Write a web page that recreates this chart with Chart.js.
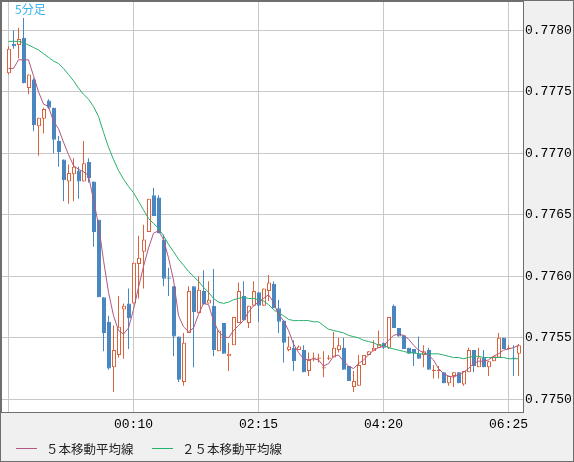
<!DOCTYPE html>
<html><head><meta charset="utf-8">
<script src="https://cdn.jsdelivr.net/npm/chart.js@4.4.0/dist/chart.umd.min.js"></script>
<style>html,body{margin:0;padding:0;background:#f0f0f0;}canvas{display:block;}</style>
</head><body>
<canvas id="c" width="574" height="462" style="width:574px;height:462px"></canvas>
<script>
const times = [
'22:05','22:10','22:15','22:20','22:25','22:30','22:35','22:40','22:45','22:50','22:55',
'23:00','23:05','23:10','23:15','23:20','23:25','23:30','23:35','23:40','23:45','23:50','23:55',
'00:00','00:05','00:10','00:15','00:20','00:25','00:30','00:35','00:40','00:45','00:50','00:55',
'01:00','01:05','01:10','01:15','01:20','01:25','01:30','01:35','01:40','01:45','01:50','01:55',
'02:00','02:05','02:10','02:15','02:20','02:25','02:30','02:35','02:40','02:45','02:50','02:55',
'03:00','03:05','03:10','03:15','03:20','03:25','03:30','03:35','03:40','03:45','03:50','03:55',
'04:00','04:05','04:10','04:15','04:20','04:25','04:30','04:35','04:40','04:45','04:50','04:55',
'05:00','05:05','05:10','05:15','05:20','05:25','05:30','05:35','05:40','05:45','05:50','05:55',
'06:00','06:05','06:10','06:15','06:20','06:25','06:30','06:35'];

const opens = [
0.77765,0.77789,0.77788,0.77794,0.77753,0.77760,0.77722,0.77728,0.77743,0.77737,
0.77710,0.77695,0.77677,0.77683,0.77686,0.77677,0.77693,0.77677,0.77646,0.77583,
0.77563,0.77526,0.77536,0.77573,0.77578,0.77578,0.77610,0.77620,0.77636,0.77666,
0.77664,0.77630,0.77599,0.77592,0.77551,0.77514,0.77554,0.77592,0.77570,0.77588,
0.77578,0.77576,0.77539,0.77562,0.77535,0.77544,0.77562,0.77584,0.77562,0.77576,
0.77587,0.77576,0.77588,0.77594,0.77574,0.77564,0.77540,0.77542,0.77540,0.77540,
0.77523,0.77533,0.77533,0.77525,0.77533,0.77534,0.77540,0.77542,0.77527,0.77510,
0.77511,0.77528,0.77536,0.77539,0.77542,0.77546,0.77542,0.77576,0.77558,0.77552,
0.77542,0.77541,0.77537,0.77536,0.77540,0.77523,0.77523,0.77522,0.77513,0.77519,
0.77522,0.77512,0.77522,0.77540,0.77526,0.77534,0.77526,0.77531,0.77534,0.77550,
0.77541,0.77534,0.77537];
const highs = [
0.77787,0.77800,0.77802,0.77810,0.77764,0.77761,0.77729,0.77737,0.77744,0.77737,
0.77714,0.77695,0.77691,0.77696,0.77689,0.77710,0.77696,0.77677,0.77646,0.77583,
0.77568,0.77560,0.77584,0.77578,0.77590,0.77611,0.77633,0.77642,0.77663,0.77672,
0.77666,0.77634,0.77607,0.77592,0.77551,0.77554,0.77592,0.77592,0.77600,0.77605,
0.77596,0.77606,0.77556,0.77562,0.77546,0.77567,0.77595,0.77596,0.77576,0.77596,
0.77587,0.77590,0.77601,0.77596,0.77581,0.77564,0.77551,0.77548,0.77544,0.77544,
0.77538,0.77538,0.77537,0.77539,0.77536,0.77555,0.77550,0.77550,0.77527,0.77523,
0.77536,0.77536,0.77539,0.77548,0.77556,0.77546,0.77567,0.77577,0.77558,0.77552,
0.77542,0.77541,0.77551,0.77544,0.77542,0.77528,0.77527,0.77522,0.77519,0.77522,
0.77522,0.77523,0.77542,0.77540,0.77542,0.77540,0.77531,0.77535,0.77554,0.77550,
0.77544,0.77544,0.77545];
const lows = [
0.77764,0.77785,0.77777,0.77757,0.77748,0.77718,0.77698,0.77716,0.77736,0.77700,
0.77689,0.77661,0.77659,0.77661,0.77663,0.77677,0.77676,0.77624,0.77583,0.77539,
0.77524,0.77506,0.77534,0.77533,0.77541,0.77578,0.77582,0.77590,0.77636,0.77649,
0.77635,0.77592,0.77584,0.77535,0.77514,0.77511,0.77554,0.77526,0.77570,0.77577,
0.77578,0.77535,0.77539,0.77537,0.77523,0.77544,0.77562,0.77564,0.77558,0.77576,
0.77563,0.77576,0.77580,0.77574,0.77554,0.77530,0.77539,0.77523,0.77540,0.77522,
0.77519,0.77531,0.77530,0.77518,0.77532,0.77534,0.77538,0.77524,0.77515,0.77506,
0.77511,0.77528,0.77536,0.77539,0.77542,0.77541,0.77541,0.77558,0.77551,0.77541,
0.77537,0.77527,0.77533,0.77526,0.77524,0.77517,0.77517,0.77513,0.77511,0.77510,
0.77513,0.77511,0.77522,0.77522,0.77526,0.77526,0.77519,0.77531,0.77534,0.77541,
0.77540,0.77519,0.77519];
const closes = [
0.77785,0.77787,0.77793,0.77757,0.77764,0.77723,0.77729,0.77736,0.77737,0.77711,
0.77701,0.77678,0.77684,0.77689,0.77677,0.77692,0.77680,0.77636,0.77583,0.77554,
0.77525,0.77540,0.77559,0.77576,0.77566,0.77611,0.77615,0.77630,0.77663,0.77649,
0.77635,0.77598,0.77598,0.77551,0.77516,0.77546,0.77588,0.77571,0.77589,0.77577,
0.77581,0.77540,0.77556,0.77537,0.77537,0.77567,0.77588,0.77564,0.77576,0.77588,
0.77576,0.77590,0.77595,0.77574,0.77563,0.77546,0.77543,0.77531,0.77543,0.77522,
0.77532,0.77534,0.77534,0.77526,0.77534,0.77542,0.77544,0.77524,0.77515,0.77515,
0.77528,0.77536,0.77539,0.77542,0.77545,0.77542,0.77567,0.77558,0.77551,0.77541,
0.77537,0.77537,0.77533,0.77539,0.77524,0.77524,0.77524,0.77513,0.77519,0.77522,
0.77513,0.77523,0.77540,0.77527,0.77534,0.77526,0.77531,0.77535,0.77550,0.77541,
0.77542,0.77533,0.77544];
const ma5 = [
0.77769,0.77769,0.77776,0.77776,0.77776,0.77763,0.77750,0.77740,0.77738,0.77726,
0.77720,0.77709,0.77699,0.77690,0.77687,0.77685,0.77682,0.77662,0.77642,0.77613,
0.77587,0.77568,0.77556,0.77553,0.77558,0.77573,0.77591,0.77608,0.77623,0.77635,
0.77637,0.77630,0.77615,0.77597,0.77568,0.77559,0.77555,0.77558,0.77569,0.77578,
0.77577,0.77564,0.77555,0.77551,0.77550,0.77556,0.77560,0.77564,0.77571,0.77576,
0.77579,0.77582,0.77585,0.77579,0.77569,0.77564,0.77556,0.77545,0.77538,0.77533,
0.77532,0.77533,0.77532,0.77527,0.77529,0.77535,0.77536,0.77531,0.77527,0.77525,
0.77529,0.77532,0.77536,0.77540,0.77542,0.77543,0.77548,0.77552,0.77553,0.77552,
0.77549,0.77544,0.77540,0.77538,0.77536,0.77532,0.77525,0.77521,0.77519,0.77518,
0.77520,0.77522,0.77525,0.77529,0.77531,0.77531,0.77532,0.77535,0.77537,0.77540,
0.77541,0.77542,0.77544];
const ma25 = [
0.77791,0.77791,0.77791,0.77790,0.77788,0.77786,0.77784,0.77781,0.77778,0.77775,
0.77773,0.77769,0.77764,0.77759,0.77753,0.77748,0.77744,0.77738,0.77730,0.77717,
0.77705,0.77695,0.77686,0.77679,0.77673,0.77668,0.77661,0.77654,0.77647,0.77643,
0.77639,0.77633,0.77626,0.77620,0.77614,0.77609,0.77604,0.77600,0.77596,0.77591,
0.77587,0.77582,0.77579,0.77578,0.77579,0.77581,0.77582,0.77583,0.77582,0.77582,
0.77581,0.77580,0.77577,0.77573,0.77570,0.77568,0.77565,0.77564,0.77564,0.77564,
0.77564,0.77563,0.77563,0.77560,0.77557,0.77556,0.77555,0.77554,0.77552,0.77551,
0.77550,0.77548,0.77547,0.77546,0.77544,0.77544,0.77542,0.77541,0.77540,0.77539,
0.77538,0.77538,0.77537,0.77537,0.77537,0.77537,0.77537,0.77536,0.77535,0.77534,
0.77534,0.77533,0.77534,0.77535,0.77535,0.77534,0.77534,0.77534,0.77534,0.77534,
0.77533,0.77533,0.77533];

const tickIndex = [0, 25, 50, 75, 100];
const yTicks = [0.7750, 0.7755, 0.7760, 0.7765, 0.7770, 0.7775, 0.7780];
const seriesNames = ['５本移動平均線', '２５本移動平均線'];
const timeframeLabel = '5分足';

const UP = '#d9633c', DOWN = '#4a87c0', MA5C = '#b2577f', MA25C = '#27b06c';
const GRID = '#c8c8c8', FRAME = '#6e6e6e';
const MONO = '"Liberation Mono", "DejaVu Sans Mono", monospace';
const CJK = '"Noto Sans CJK JP", sans-serif';
const X_MIN = -1.3, X_MAX = 102.9;

const up = closes.map((c, i) => c >= opens[i]);
const wickData = times.map((t, i) => ({ x: i, y: [lows[i], highs[i]] }));
const bodyData = times.map((t, i) => ({ x: i, y: [Math.min(opens[i], closes[i]), Math.max(opens[i], closes[i])] }));
const ma5Data = ma5.map((v, i) => ({ x: i, y: v }));
const ma25Data = ma25.map((v, i) => ({ x: i, y: v }));

const frame = {
  id: 'frame',
  beforeDraw(chart) {
    const { ctx, chartArea: a, width, height } = chart;
    ctx.save();
    ctx.fillStyle = '#f0f0f0';
    ctx.fillRect(0, 0, width, height);
    ctx.fillStyle = '#ffffff';
    ctx.fillRect(a.left, a.top, a.right - a.left, a.bottom - a.top);
    ctx.restore();
  },
  afterDraw(chart) {
    const { ctx, chartArea: a, width, height } = chart;
    ctx.save();
    ctx.strokeStyle = FRAME;
    ctx.lineWidth = 1;
    ctx.strokeRect(a.left - 0.5, a.top - 0.5, a.right - a.left + 1, a.bottom - a.top + 1);
    ctx.strokeRect(0.5, 0.5, width - 1, height - 1);
    ctx.fillStyle = '#3cb2ee';
    ctx.font = '12px ' + CJK;
    ctx.textBaseline = 'top';
    ctx.textAlign = 'left';
    ctx.fillText(timeframeLabel, 15, 3);
    const items = [
      { x: 16, c: MA5C, t: seriesNames[0] },
      { x: 152, c: MA25C, t: seriesNames[1] }
    ];
    ctx.font = '12.5px ' + CJK;
    ctx.textBaseline = 'middle';
    items.forEach(it => {
      ctx.strokeStyle = it.c;
      ctx.beginPath();
      ctx.moveTo(it.x, 448.5);
      ctx.lineTo(it.x + 21, 448.5);
      ctx.stroke();
      ctx.fillStyle = '#222222';
      ctx.fillText(it.t, it.x + 30, 449);
    });
    ctx.restore();
  }
};

new Chart(document.getElementById('c'), {
  data: {
    datasets: [
      { type: 'line', label: seriesNames[0], data: ma5Data, borderColor: MA5C, borderWidth: 1, pointRadius: 0, tension: 0, fill: false },
      { type: 'line', label: seriesNames[1], data: ma25Data, borderColor: MA25C, borderWidth: 1, pointRadius: 0, tension: 0, fill: false },
      { type: 'bar', label: 'body', data: bodyData, xAxisID: 'xb', barThickness: 4, minBarLength: 1,
        backgroundColor: up.map(u => u ? '#ffffff' : DOWN),
        borderColor: up.map(u => u ? UP : DOWN),
        borderWidth: 1, borderSkipped: false },
      { type: 'bar', label: 'wick', data: wickData, barThickness: 1,
        backgroundColor: up.map(u => u ? UP : DOWN), borderWidth: 0 }
    ]
  },
  options: {
    responsive: false,
    animation: false,
    devicePixelRatio: 1,
    layout: { padding: { left: 2, top: 2, right: 0, bottom: 0 } },
    plugins: { legend: { display: false }, tooltip: { enabled: false } },
    datasets: { bar: { grouped: false, inflateAmount: 0 } },
    scales: {
      x: {
        type: 'linear', min: X_MIN, max: X_MAX, offset: false,
        afterBuildTicks: s => { s.ticks = tickIndex.map(v => ({ value: v })); },
        afterFit: s => { s.height = 50; s.paddingLeft = 0; s.paddingRight = 0; },
        grid: { color: GRID, lineWidth: 1, drawTicks: false, offset: false },
        border: { display: false },
        ticks: {
          padding: 5, maxRotation: 0, autoSkip: false, color: '#000000',
          font: { family: MONO, size: 13 },
          callback: v => (v === 0 ? '' : times[v])
        }
      },
      xb: {
        type: 'linear', axis: 'x', position: 'bottom', display: false, offset: false,
        min: X_MIN - 0.1, max: X_MAX - 0.1,
        grid: { offset: false }
      },
      y: {
        position: 'right', min: 0.774897, max: 0.778230,
        afterBuildTicks: s => { s.ticks = yTicks.map(v => ({ value: v })); },
        afterFit: s => { s.width = 51; s.paddingTop = 0; s.paddingBottom = 0; },
        grid: { color: GRID, lineWidth: 1, drawTicks: false },
        border: { display: false },
        ticks: {
          padding: 2, color: '#000000',
          font: { family: MONO, size: 13 },
          callback: v => Number(v).toFixed(4)
        }
      }
    }
  },
  plugins: [frame]
});
</script>
</body></html>
